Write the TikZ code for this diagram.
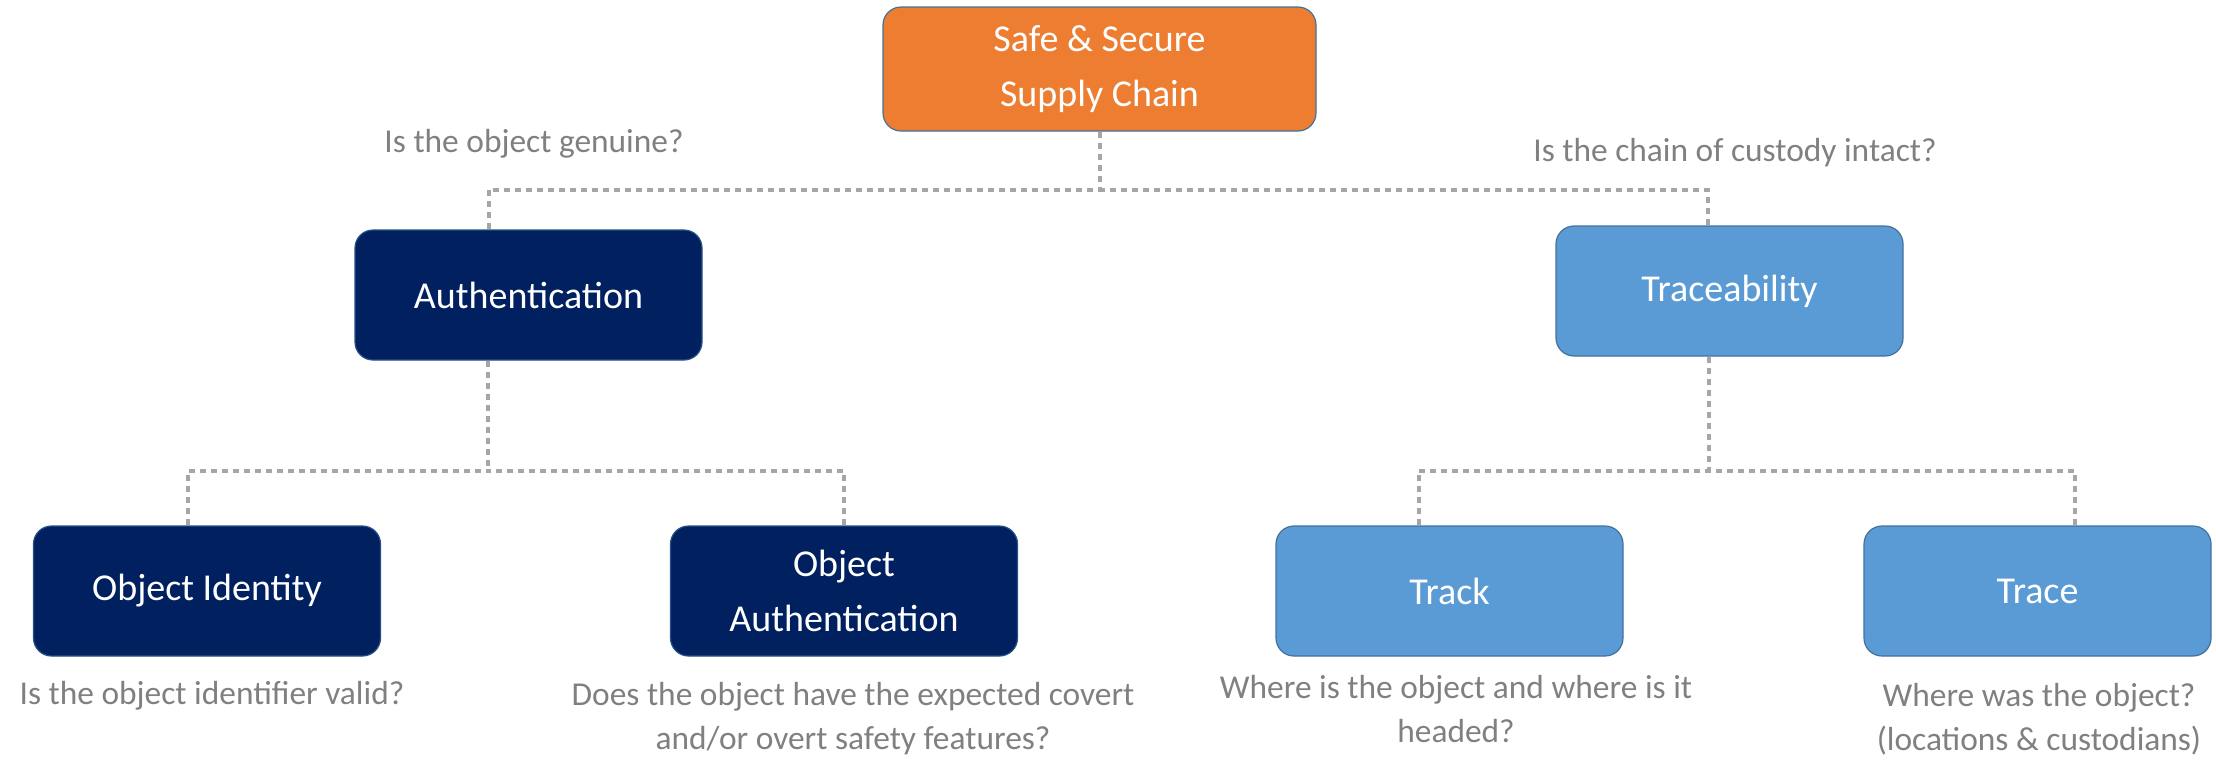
\documentclass[tikz,border=0pt]{standalone}
\usepackage{fontspec}
\setmainfont{Carlito}
\usetikzlibrary{positioning}

\definecolor{safeorange}{HTML}{ED7D31}
\definecolor{authnavy}{HTML}{002060}
\definecolor{tracblue}{HTML}{5B9BD5}
\definecolor{edgeblue}{HTML}{41719C}
\definecolor{linkgray}{HTML}{A6A6A6}
\definecolor{notegray}{HTML}{808080}

\tikzset{
  block/.style={draw=edgeblue, line width=0.6pt, rounded corners=9pt,
    minimum width=173.5pt, minimum height=65pt, inner sep=0pt,
    text=white, align=center, font=\fontsize{19}{27.5}\selectfont},
  navyblock/.style={block, fill=authnavy, draw=edgeblue!60!authnavy},
  blueblock/.style={block, fill=tracblue},
  question/.style={text=notegray, align=center, inner sep=0pt,
    font=\fontsize{16.7}{22}\selectfont},
  link/.style={draw=linkgray, line width=2pt, dash pattern=on 3pt off 2.5pt},
}

\begin{document}
\begin{tikzpicture}[x=0.5pt, y=-0.5pt]
  \useasboundingbox (0,0) rectangle (2216,761);

  % Root
  \node[block, fill=safeorange, minimum width=216.5pt, minimum height=62pt]
    (chain) at (1099.5,69) {Safe \& Secure\\Supply Chain};

  % Second level
  \node[navyblock] (auth) at (528.5,295) {Authentication};
  \node[blueblock] (trac) at (1729.5,291) {Traceability};

  % Leaves
  \node[navyblock] (ident) at (207,591) {Object Identity};
  \node[navyblock] (objauth) at (844,591) {Object\\Authentication};
  \node[blueblock] (track) at (1449.5,591) {Track};
  \node[blueblock] (trace) at (2037.5,591) {Trace};

  % Questions
  \node[question] (qgen) at (534,144) {Is the object genuine?};
  \node[question] (qcust) at (1735,153) {Is the chain of custody intact?};
  \node[question] (qident) at (212,696) {Is the object identifier valid?};
  \node[question] (qfeat) at (853,719) {Does the object have the expected covert\\and/or overt safety features?};
  \node[question] (qtrack) at (1456,709) {Where is the object and where is it\\headed?};
  \node[question] (qtrace) at (2039,719) {Where was the object?\\(locations \& custodians)};

  % Junctions of the dotted tree
  \coordinate (jroot) at (1100,190);
  \coordinate (jauth) at (488,471);
  \coordinate (jtrac) at (1709,471);

  \draw[link] (chain.south -| jroot) -- (jroot);
  \draw[link] ([xshift=-20pt]auth.north) |- (jroot);
  \draw[link] ([xshift=-11pt]trac.north) |- (jroot);

  \draw[link] (auth.south -| jauth) -- (jauth);
  \draw[link] ([xshift=-9.5pt]ident.north) |- (jauth);
  \draw[link] (objauth.north) |- (jauth);

  \draw[link] (trac.south -| jtrac) -- (jtrac);
  \draw[link] ([xshift=-15.5pt]track.north) |- (jtrac);
  \draw[link] ([xshift=18.5pt]trace.north) |- (jtrac);
\end{tikzpicture}
\end{document}
